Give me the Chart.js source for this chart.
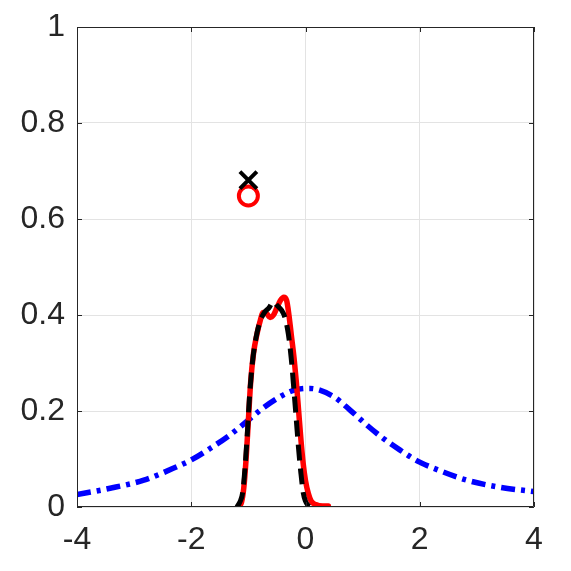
<!DOCTYPE html>
<html>
<head>
<meta charset="utf-8">
<script src="https://cdn.jsdelivr.net/npm/chart.js@4/dist/chart.umd.min.js"></script>
<style>
html,body{margin:0;padding:0;background:#fff;}
#wrap{width:571px;height:571px;}
</style>
</head>
<body>
<div id="wrap"><canvas id="c" width="571" height="571"></canvas></div>
<script>
// ---- data ----
const blueX = [-4, -3.42, -2.83, -2.25, -2.0, -1.67, -1.37, -1.08, -0.79, -0.5, -0.21, 0.03, 0.08, 0.49, 0.78, 1.07, 1.36, 1.65, 1.99, 2.24, 2.82, 3.41, 4];
const blueY = [0.026, 0.039, 0.056, 0.084, 0.098, 0.122, 0.146, 0.173, 0.202, 0.226, 0.243, 0.247, 0.247, 0.23, 0.202, 0.171, 0.143, 0.119, 0.094, 0.081, 0.056, 0.041, 0.032];

const redX = [-1.18, -1.12, -1.08, -1.04, -1.0, -0.96, -0.91, -0.85, -0.8, -0.74, -0.68, -0.62, -0.56, -0.5, -0.44, -0.38, -0.33, -0.29, -0.25, -0.2, -0.16, -0.12, -0.08, -0.04, 0.0, 0.05, 0.1, 0.18, 0.3, 0.4];
const redY = [0.0, 0.01, 0.04, 0.10, 0.18, 0.26, 0.32, 0.36, 0.385, 0.405, 0.403, 0.395, 0.40, 0.415, 0.43, 0.437, 0.43, 0.40, 0.36, 0.31, 0.26, 0.20, 0.14, 0.09, 0.055, 0.028, 0.012, 0.005, 0.002, 0.002];

const blackX = [-1.2, -1.15, -1.1, -1.06, -1.02, -0.98, -0.93, -0.87, -0.8, -0.72, -0.64, -0.56, -0.5, -0.42, -0.36, -0.3, -0.25, -0.2, -0.16, -0.12, -0.08, -0.04, 0.0, 0.04, 0.08];
const blackY = [0.0, 0.01, 0.03, 0.08, 0.15, 0.23, 0.30, 0.35, 0.385, 0.405, 0.415, 0.428, 0.42, 0.41, 0.395, 0.36, 0.31, 0.24, 0.18, 0.12, 0.07, 0.03, 0.012, 0.004, 0.0];

const circleX = [-1.0];
const circleY = [0.648];
const crossX = [-1.0];
const crossY = [0.681];

const xTicks = [-4, -2, 0, 2, 4];
const yTicks = [0, 0.2, 0.4, 0.6, 0.8, 1];
const xTickLabels = ['-4', '-2', '0', '2', '4'];
const yTickLabels = ['0', '0.2', '0.4', '0.6', '0.8', '1'];

const zip = (xs, ys) => xs.map((x, i) => ({x: x, y: ys[i]}));

const axisColor = '#262626';
const gridColor = '#e3e3e3';
const font = {family: '"Liberation Sans", Arial, Helvetica, sans-serif', size: 32};

const boxPlugin = {
  id: 'boxTicks',
  afterDraw(chart) {
    const ctx = chart.ctx;
    const a = chart.chartArea;
    const xs = chart.scales.x, ys = chart.scales.y;
    ctx.save();
    ctx.strokeStyle = axisColor;
    ctx.lineWidth = 1;
    ctx.beginPath();
    ctx.rect(Math.round(a.left) + 0.5, Math.round(a.top) + 0.5, Math.round(a.right - a.left) - 1, Math.round(a.bottom - a.top) - 1);
    ctx.stroke();
    const tl = 5;
    ctx.beginPath();
    xTicks.forEach(v => {
      const px = Math.round(xs.getPixelForValue(v)) + 0.5;
      ctx.moveTo(px, a.bottom); ctx.lineTo(px, a.bottom - tl);
      ctx.moveTo(px, a.top); ctx.lineTo(px, a.top + tl);
    });
    yTicks.forEach(v => {
      const py = Math.round(ys.getPixelForValue(v)) + 0.5;
      ctx.moveTo(a.left, py); ctx.lineTo(a.left + tl, py);
      ctx.moveTo(a.right, py); ctx.lineTo(a.right - tl, py);
    });
    ctx.stroke();
    ctx.restore();
  }
};

new Chart(document.getElementById('c'), {
  type: 'line',
  data: {
    datasets: [
      {
        label: 'cross', type: 'scatter', data: zip(crossX, crossY), order: 0,
        pointStyle: 'crossRot', pointRadius: 12, pointBorderWidth: 4,
        borderColor: '#000000', backgroundColor: '#000000', showLine: false
      },
      {
        label: 'circle', type: 'scatter', data: zip(circleX, circleY), order: 1,
        pointStyle: 'circle', pointRadius: 9.5, pointBorderWidth: 4,
        borderColor: '#ff0000', backgroundColor: 'rgba(0,0,0,0)', showLine: false
      },
      {
        label: 'black', data: zip(blackX, blackY), order: 2,
        borderColor: '#000000', borderWidth: 5, borderDash: [16, 8],
        borderCapStyle: 'butt', pointRadius: 0, cubicInterpolationMode: 'monotone', fill: false
      },
      {
        label: 'red', data: zip(redX, redY), order: 3,
        borderColor: '#ff0000', borderWidth: 5.5,
        borderCapStyle: 'round', borderJoinStyle: 'round', pointRadius: 0, cubicInterpolationMode: 'monotone', fill: false
      },
      {
        label: 'blue', data: zip(blueX, blueY), order: 4,
        borderColor: '#0000ff', borderWidth: 5.5, borderDash: [14, 6, 4, 6],
        borderCapStyle: 'butt', pointRadius: 0, cubicInterpolationMode: 'monotone', fill: false
      }
    ]
  },
  options: {
    responsive: false,
    animation: false,
    devicePixelRatio: 1,
    layout: {padding: {top: 27, right: 37, left: 0, bottom: 0}},
    plugins: {legend: {display: false}, tooltip: {enabled: false}},
    scales: {
      x: {
        type: 'linear', min: -4, max: 4,
        afterFit(s) { s.height = 64; s.paddingLeft = 0; s.paddingRight = 0; },
        afterBuildTicks(s) { s.ticks = xTicks.map(v => ({value: v})); },
        grid: {color: gridColor, lineWidth: 1, drawTicks: false},
        border: {display: false},
        ticks: {
          padding: 14, color: axisColor, font: font, maxRotation: 0, autoSkip: false,
          callback: (v) => { const i = xTicks.indexOf(v); return i >= 0 ? xTickLabels[i] : ''; }
        }
      },
      y: {
        type: 'linear', min: 0, max: 1,
        afterFit(s) { s.width = 77; s.paddingTop = 0; s.paddingBottom = 0; },
        afterBuildTicks(s) { s.ticks = yTicks.map(v => ({value: v})); },
        grid: {color: gridColor, lineWidth: 1, drawTicks: false},
        border: {display: false},
        ticks: {
          padding: 12, color: axisColor, font: font, autoSkip: false,
          callback: (v) => { const i = yTicks.findIndex(t => Math.abs(t - v) < 1e-9); return i >= 0 ? yTickLabels[i] : ''; }
        }
      }
    }
  },
  plugins: [boxPlugin]
});
</script>
</body>
</html>
